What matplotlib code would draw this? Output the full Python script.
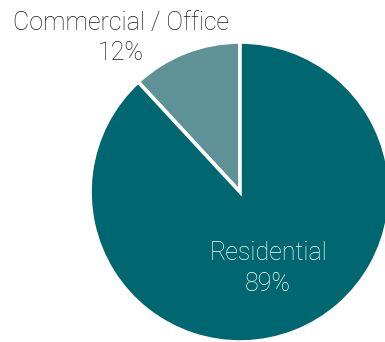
import matplotlib
matplotlib.use("Agg")
import matplotlib.pyplot as plt

categories = ["Commercial / Office", "Residential"]
shares = [12, 89]
colors = ["#5f9296", "#00666f"]
text_colors = ["#1a1a1a", "#ffffff"]

plt.rcParams["font.family"] = ["Roboto", "DejaVu Sans"]

W, H = 385, 342
fig = plt.figure(figsize=(W / 100, H / 100), dpi=100)
ax = fig.add_axes([0, 0, 1, 1])

# pie centre at (240, 192) px, radius 150 px
cx, cy, r = 240, 192, 150

ax.pie(shares, colors=colors, startangle=90, counterclock=True,
       radius=1.0, center=(0, 0), frame=True,
       wedgeprops=dict(edgecolor="white", linewidth=2.6))
ax.set_xlim(-cx / r, (W - cx) / r)
ax.set_ylim((cy - H) / r, cy / r)
ax.set_aspect("equal")
ax.axis("off")


def px(x, y):
    return (x - cx) / r, (cy - y) / r


label_pos = [((121, 23), (121, 53)), ((268, 253), (268, 284))]
for name, val, tc, (p1, p2) in zip(categories, shares, text_colors, label_pos):
    ax.text(*px(*p1), name, ha="center", va="center", fontsize=18,
            fontweight="light", color=tc)
    ax.text(*px(*p2), f"{val}%", ha="center", va="center", fontsize=18,
            fontweight="light", color=tc)

fig.savefig("out.png", dpi=100)
